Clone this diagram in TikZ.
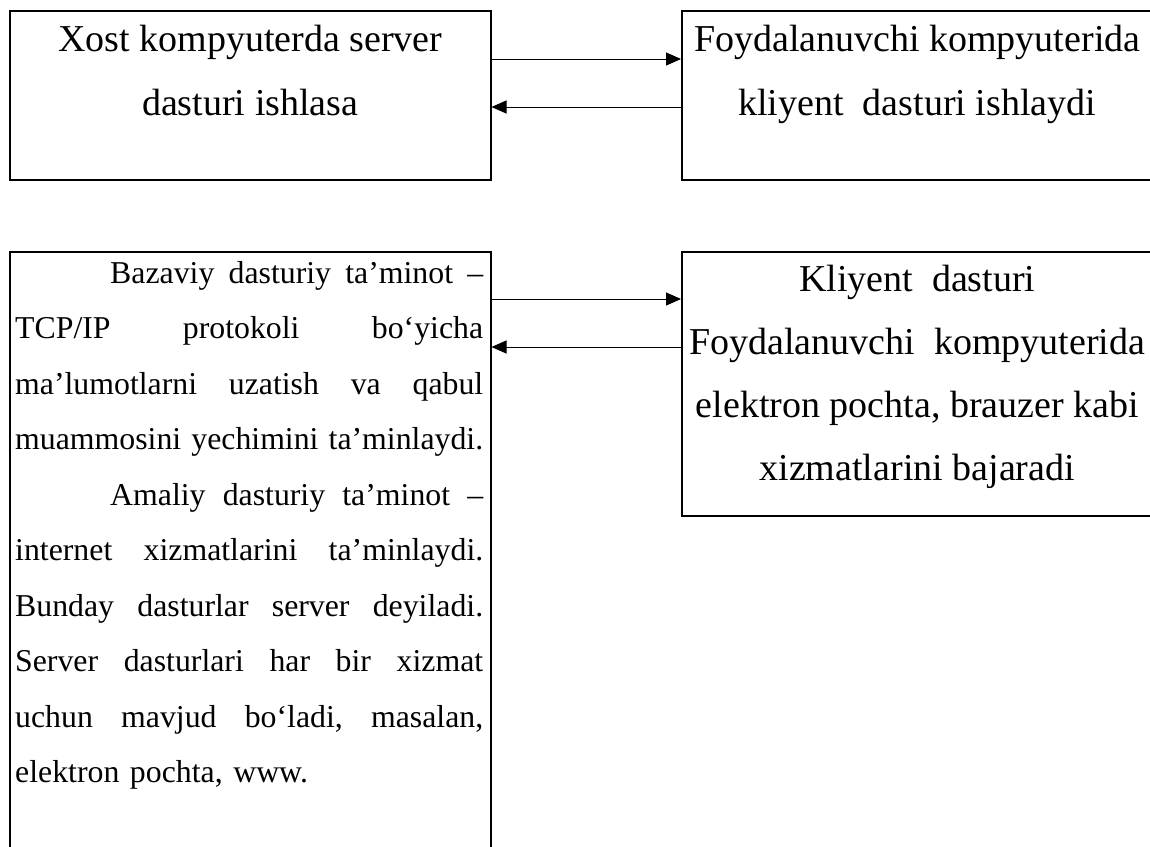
\documentclass[tikz,border=0pt]{standalone}
\usepackage{fontspec}
\setmainfont{Liberation Serif}
\usetikzlibrary{arrows.meta,positioning}
\frenchspacing

% one justified line of the long box (spaces share the stretch)
\newcommand{\jline}[1]{\makebox[\hsize][s]{\spaceskip=0.25em plus 1fil\relax #1}\\}
\newcommand{\indline}[1]{\hspace*{95pt}\makebox[\dimexpr\hsize-95pt\relax][s]{\spaceskip=0.25em plus 1fil\relax #1}\\}

\begin{document}
\begin{tikzpicture}[x=1pt,y=-1pt,>={Triangle[length=15pt,width=13pt]},
	box/.style={draw, line width=1.5pt, anchor=north west, inner sep=0pt},
	txt/.style={anchor=north, align=center, inner sep=0pt, font=\fontsize{38}{64}\selectfont},
	arr/.style={->, line width=1pt}]
	\useasboundingbox (0,0) rectangle (1150,846);
	\clip (0,0) rectangle (1150,846);
	% top row
	\node[box, minimum width=481pt, minimum height=169pt] (xost) at (9,10) {};
	\node[box, minimum width=471pt, minimum height=169pt] (foyd) at (681,10) {};
	\node[txt, below=15pt of xost.north] (xosttxt) {Xost kompyuterda server\\dasturi ishlasa};
	\node[txt, below=15pt of foyd.north] (foydtxt) {Foydalanuvchi kompyuterida\\kliyent~ dasturi ishlaydi};
	\draw[arr] ([yshift=-49pt]xost.north east) -- ([yshift=-49pt]foyd.north west);
	\draw[arr] ([yshift=-97pt]foyd.north west) -- ([yshift=-97pt]xost.north east);
	% bottom row
	\node[box, minimum width=481pt, minimum height=620pt] (baza) at (9,251) {};
	\node[box, minimum width=471pt, minimum height=264pt] (kliyent) at (681,251) {};
	\node[anchor=north west, inner sep=0pt, text width=468pt, align=left,
		font=\fontsize{31.8}{55.5}\selectfont] (bazatxt) at (15,261) {%
		\indline{Bazaviy dasturiy ta’minot –}
		\jline{TCP/IP protokoli bo‘yicha}
		\jline{ma’lumotlarni uzatish va qabul}
		\jline{muammosini yechimini ta’minlaydi.}
		\indline{Amaliy dasturiy ta’minot –}
		\jline{internet xizmatlarini ta’minlaydi.}
		\jline{Bunday dasturlar server deyiladi.}
		\jline{Server dasturlari har bir xizmat}
		\jline{uchun mavjud bo‘ladi, masalan,}
		elektron pochta, www.};
	\node[txt, font=\fontsize{38}{63}\selectfont, below=14pt of kliyent.north] (kliyenttxt)
		{Kliyent~ dasturi\\Foydalanuvchi~ kompyuterida\\elektron pochta, brauzer kabi\\xizmatlarini bajaradi};
	\draw[arr] ([yshift=-48pt]baza.north east) -- ([yshift=-48pt]kliyent.north west);
	\draw[arr] ([yshift=-96pt]kliyent.north west) -- ([yshift=-96pt]baza.north east);
\end{tikzpicture}
\end{document}
